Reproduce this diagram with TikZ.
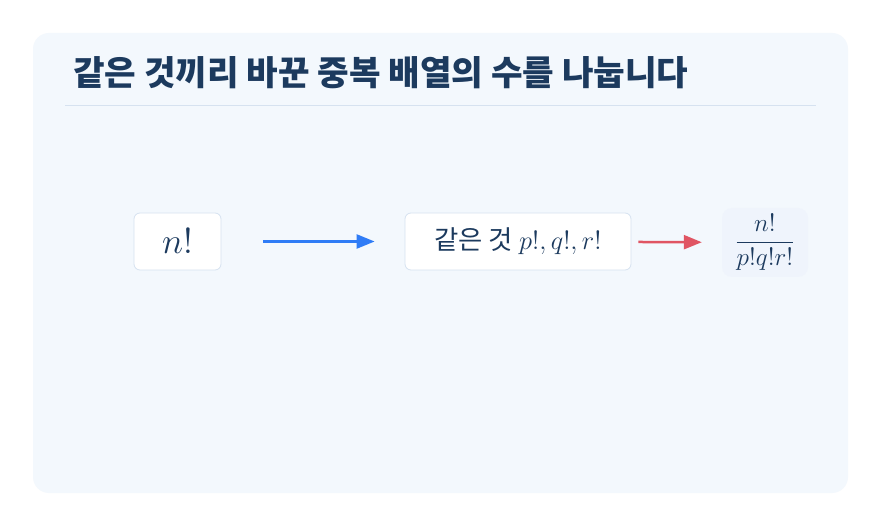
\documentclass[tikz,border=0pt]{standalone}
\usepackage{amsmath}
\usepackage{graphicx}
\usepackage{fontspec}
\newfontfamily\krfont{Noto Sans CJK KR}
\newfontfamily\krbold{Noto Sans CJK KR Black}
\usetikzlibrary{arrows.meta}

\definecolor{panelbg}{HTML}{F3F8FD}
\definecolor{boxline}{HTML}{D6E2F0}
\definecolor{inkblue}{HTML}{1C3A5E}
\definecolor{arrowblue}{HTML}{2F7CF6}
\definecolor{arrowred}{HTML}{E05563}
\definecolor{resultbg}{HTML}{EFF4FC}

\tikzset{
  stagebox/.style={draw=boxline, line width=0.8pt, fill=white, rounded corners=6pt,
    text=inkblue, inner sep=0pt},
  flowarrow/.style={line width=2.5pt, -{Triangle[length=18pt,width=14pt]}},
}

\begin{document}
\begin{tikzpicture}[x=1pt,y=-1pt]
  \useasboundingbox[fill=white] (0,0) rectangle (881,526);

  \fill[panelbg, rounded corners=16pt] (33,33) rectangle (848,493);
  \node[anchor=base west, text=inkblue, inner sep=0pt, font=\krbold\fontsize{34.3}{38}\selectfont]
    (title) at (73,86) {같은 것끼리 바꾼 중복 배열의 수를 나눕니다};
  \draw[boxline, line width=0.8pt] (65,105) -- (816,105);

  \node[stagebox, minimum width=87pt, minimum height=57pt, font=\fontsize{12}{14}\selectfont]
    (nfact) at (177.5,241.5) {\scalebox{3}{$n!$}};
  \node[stagebox, minimum width=226pt, minimum height=57pt, font=\krfont\fontsize{12}{14}\selectfont]
    (same) at (518,241.5) {\scalebox{2.2}{같은 것 $p!,q!,r!$}};
  \node[fill=resultbg, rounded corners=10pt, text=inkblue, inner sep=0pt,
    minimum width=86pt, minimum height=69pt, font=\fontsize{12}{14}\selectfont]
    (result) at (765,242.5) {\scalebox{2.1}{$\dfrac{n!}{p!q!r!}$}};

  \draw[flowarrow, arrowblue, shorten <=42pt, shorten >=30pt] (nfact) -- (same);
  \draw[flowarrow, arrowred, shorten <=7pt, shorten >=20pt] (same) -- (result);
\end{tikzpicture}
\end{document}
